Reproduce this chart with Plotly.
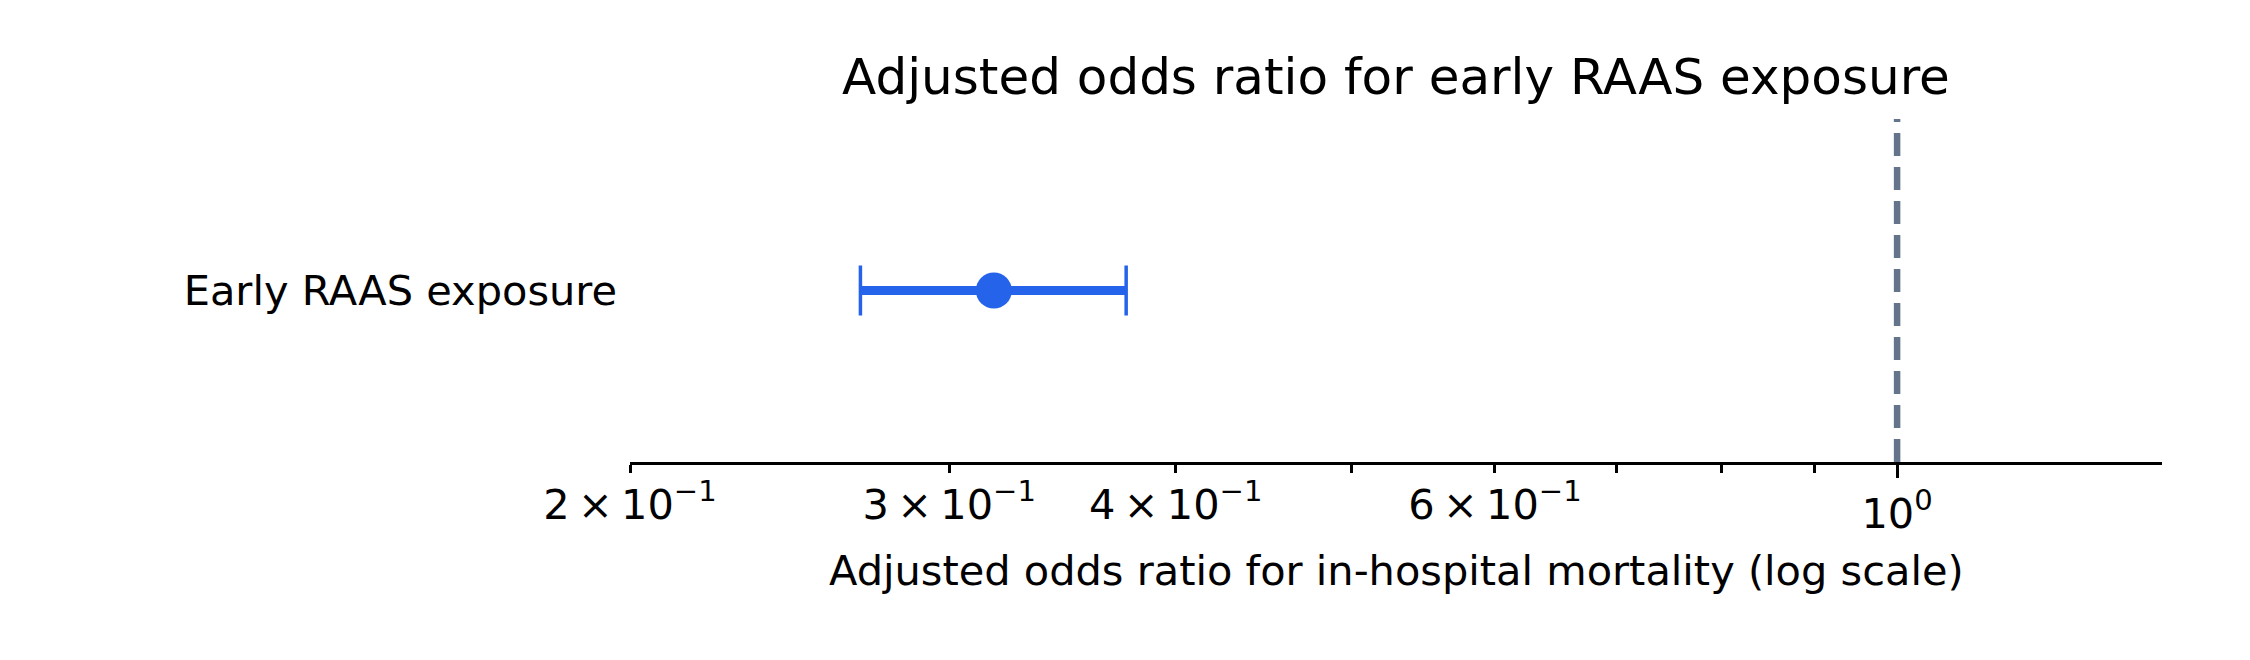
import plotly.graph_objects as go
import math

# Data
categories = ["Early RAAS exposure"]
odds_ratio = [0.3175]
ci_low = [0.268]
ci_high = [0.3756]
reference_value = 1.0

labeled_ticks = [0.2, 0.3, 0.4, 0.6]
labeled_text = ["2\u2009×\u200910<sup>−1</sup>", "3\u2009×\u200910<sup>−1</sup>",
                "4\u2009×\u200910<sup>−1</sup>", "6\u2009×\u200910<sup>−1</sup>"]
unlabeled_ticks = [0.5, 0.7, 0.8, 0.9]
major_tick = [1.0]
major_text = ["10<sup>0</sup>"]
x_limits = [0.2, 1.4]

title_text = "Adjusted odds ratio for early RAAS exposure"
xlabel_text = "Adjusted odds ratio for in-hospital mortality (log scale)"

FONT = "DejaVu Sans"
BLUE = "#2563eb"
SLATE = "#64748b"

W, H = 2250, 660
L, R, T, B = 630, 88, 119, 198

xr = [math.log10(x_limits[0]), math.log10(x_limits[1])]

fig = go.Figure()

# thick CI line
for c, lo, hi in zip(categories, ci_low, ci_high):
    fig.add_trace(go.Scatter(
        x=[lo, hi], y=[c, c], mode="lines",
        line=dict(color=BLUE, width=9), hoverinfo="skip", showlegend=False,
        xaxis="x", yaxis="y"))

# caps via error bars
fig.add_trace(go.Scatter(
    x=odds_ratio, y=categories, mode="markers",
    marker=dict(size=1, color="rgba(0,0,0,0)"),
    error_x=dict(type="data", symmetric=False,
                 array=[h - o for h, o in zip(ci_high, odds_ratio)],
                 arrayminus=[o - l for o, l in zip(odds_ratio, ci_low)],
                 color=BLUE, thickness=3.5, width=25),
    showlegend=False, xaxis="x", yaxis="y"))

# point estimate (on overlay axis so it draws on top)
fig.add_trace(go.Scatter(
    x=odds_ratio, y=categories, mode="markers",
    marker=dict(size=36, color=BLUE, line=dict(width=0)),
    showlegend=False, xaxis="x2", yaxis="y"))

# reference line
fig.add_shape(type="line", xref="x", yref="paper",
              x0=reference_value, x1=reference_value, y0=0, y1=1,
              line=dict(color=SLATE, width=6.5, dash="23px,11px"), layer="below")

xlabel_y = -(570 - (H - B)) / (H - T - B)

fig.update_layout(
    width=W, height=H, autosize=False,
    margin=dict(l=L, r=R, t=T, b=B, pad=0),
    paper_bgcolor="white", plot_bgcolor="white",
    font=dict(family=FONT, size=41.5, color="black"),
    title=dict(text=title_text, x=0.5, xref="paper", xanchor="center",
               y=1 - 76 / H, yref="container", yanchor="middle",
               font=dict(family=FONT, size=50, color="black")),
    xaxis=dict(type="log", range=xr, showgrid=False, zeroline=False,
               showline=True, linecolor="black", linewidth=2.7,
               ticks="outside", ticklen=8, tickwidth=2.5, tickcolor="black",
               tickvals=labeled_ticks, ticktext=labeled_text,
               tickfont=dict(family=FONT, size=41.5, color="black"),
               minor=dict(tickvals=unlabeled_ticks, ticks="outside", ticklen=8,
                          tickwidth=2.5, tickcolor="black", showgrid=False),
               ticklabelstandoff=-4),
    xaxis2=dict(type="log", range=xr, overlaying="x", side="bottom",
                showgrid=False, zeroline=False, showline=False,
                ticks="outside", ticklen=15, tickwidth=2.7, tickcolor="black",
                tickvals=major_tick, ticktext=major_text,
                tickfont=dict(family=FONT, size=41.5, color="black"),
                ticklabelstandoff=0),
    yaxis=dict(type="category", categoryarray=categories, range=[-1, 1],
               showgrid=False, zeroline=False, showline=False, ticks="",
               tickfont=dict(family=FONT, size=41.5, color="black"),
               ticklabelstandoff=12),
    annotations=[dict(text=xlabel_text, xref="paper", yref="paper",
                      x=0.5, y=xlabel_y,
                      xanchor="center", yanchor="middle", showarrow=False,
                      font=dict(family=FONT, size=41.5, color="black"))],
)

fig.write_html("out.html")
